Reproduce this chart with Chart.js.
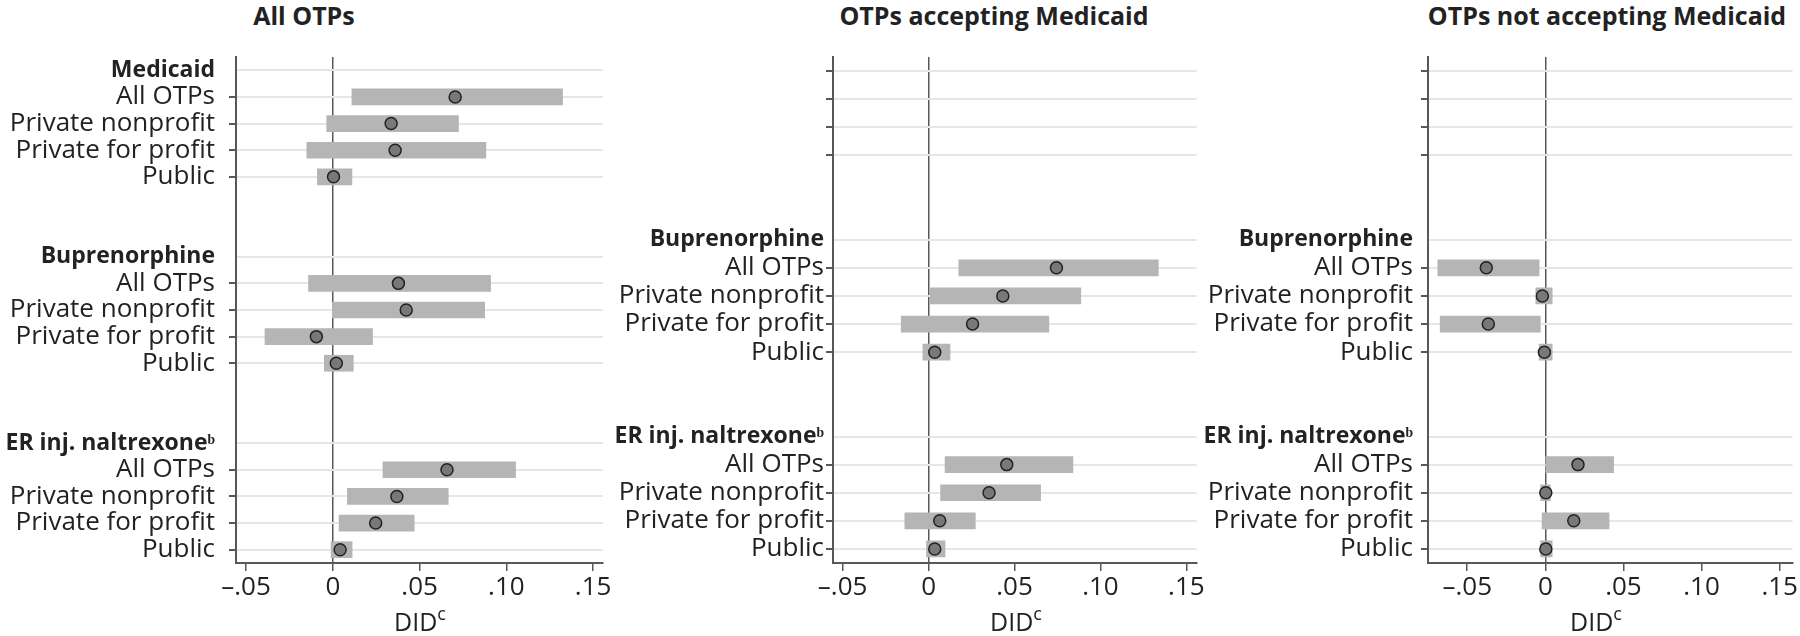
<!DOCTYPE html>
<html>
<head>
<meta charset="utf-8">
<script src="https://cdn.jsdelivr.net/npm/chart.js@4.4.1/dist/chart.umd.min.js"></script>
<style>
  body { margin: 0; background: #fff; }
  #wrap { position: relative; width: 1800px; height: 636px; overflow: hidden; }
  canvas { position: absolute; top: 0; }
  .ttl { position: absolute; top: 0px; font: bold 25px "Open Sans", sans-serif; line-height: 30px;
         color: #222; white-space: nowrap; transform: translateX(-50%); }
  .xt { position: absolute; top: 598px; font: 25px "Open Sans", sans-serif; line-height: 34px;
        color: #222; white-space: nowrap; transform: translateX(-50%); }
  .xt sup { font-size: 18px; position: relative; top: -2px; }
</style>
</head>
<body>
<div id="wrap">
  <div class="ttl" style="left:304px">All OTPs</div>
  <div class="ttl" style="left:994px">OTPs accepting Medicaid</div>
  <div class="ttl" style="left:1607px">OTPs not accepting Medicaid</div>
  <canvas id="c1" width="612" height="636" style="left:0px"></canvas>
  <canvas id="c2" width="592" height="636" style="left:612px"></canvas>
  <canvas id="c3" width="596" height="636" style="left:1204px"></canvas>
  <div class="xt" style="left:420px">DID<sup>c</sup></div>
  <div class="xt" style="left:1016px">DID<sup>c</sup></div>
  <div class="xt" style="left:1596px">DID<sup>c</sup></div>
</div>
<script>
var groupLabels = ['All OTPs', 'Private nonprofit', 'Private for profit', 'Public'];
var xTickValues = [-0.05, 0, 0.05, 0.10, 0.15];
var xTickLabels = ['\u2013.05', '0', '.05', '.10', '.15'];

// All OTPs
var allMedEst = [0.0705, 0.0336, 0.0359, 0.0004];
var allMedLo  = [0.0110, -0.0035, -0.0150, -0.0089];
var allMedHi  = [0.1324, 0.0724, 0.0882, 0.0110];
var allBupEst = [0.0378, 0.0423, -0.0095, 0.0020];
var allBupLo  = [-0.0140, -0.0003, -0.0391, -0.0049];
var allBupHi  = [0.0909, 0.0875, 0.0229, 0.0118];
var allErEst  = [0.0658, 0.0369, 0.0247, 0.0042];
var allErLo   = [0.0289, 0.0084, 0.0036, -0.0010];
var allErHi   = [0.1053, 0.0665, 0.0469, 0.0111];

// OTPs accepting Medicaid
var accBupEst = [0.0744, 0.0432, 0.0256, 0.0036];
var accBupLo  = [0.0176, 0.0009, -0.0159, -0.0033];
var accBupHi  = [0.1337, 0.0886, 0.0700, 0.0125];
var accErEst  = [0.0455, 0.0352, 0.0065, 0.0036];
var accErLo   = [0.0096, 0.0070, -0.0138, -0.0012];
var accErHi   = [0.0840, 0.0652, 0.0272, 0.0096];

// OTPs not accepting Medicaid
var notBupEst = [-0.0378, -0.0019, -0.0365, -0.0006];
var notBupLo  = [-0.0688, -0.0061, -0.0673, -0.0040];
var notBupHi  = [-0.0040, 0.0044, -0.0032, 0.0044];
var notErEst  = [0.0209, 0.0003, 0.0182, 0.0003];
var notErLo   = [0.0003, -0.0030, -0.0021, -0.0030];
var notErHi   = [0.0437, 0.0032, 0.0408, 0.0044];

// rows: header, 4 items, 2 blank rows between sections
function buildRows(secs) {
    var labels = [], kinds = [], est = [], ci = [];
    secs.forEach(function (s, k) {
        if (k > 0) {
            for (var g = 0; g < 2; g++) { labels.push(''); kinds.push('gap'); est.push(null); ci.push(null); }
        }
        if (s.name) { labels.push(s.name); kinds.push('head'); est.push(null); ci.push(null); }
        groupLabels.forEach(function (lab, i) {
            labels.push(s.est ? lab : '');
            kinds.push('item');
            est.push(s.est ? s.est[i] : null);
            ci.push(s.est ? [s.lo[i], s.hi[i]] : null);
        });
    });
    return { labels: labels, kinds: kinds, est: est, ci: ci };
}

var panels = [
    { id: 'c1', yW: 236, padR: 9, xMin: -0.0558, xMax: 0.1557, tickPad: 14,
      rows: buildRows([
          { name: 'Medicaid', est: allMedEst, lo: allMedLo, hi: allMedHi },
          { name: 'Buprenorphine', est: allBupEst, lo: allBupLo, hi: allBupHi },
          { name: 'ER inj. naltrexone\u1d47', est: allErEst, lo: allErLo, hi: allErHi }]) },
    { id: 'c2', yW: 221, padR: 6, xMin: -0.0556, xMax: 0.1559, tickPad: 2,
      rows: buildRows([
          { name: null, est: null },
          { name: 'Buprenorphine', est: accBupEst, lo: accBupLo, hi: accBupHi },
          { name: 'ER inj. naltrexone\u1d47', est: accErEst, lo: accErLo, hi: accErHi }]) },
    { id: 'c3', yW: 224, padR: 3, xMin: -0.0751, xMax: 0.1582, tickPad: 8,
      rows: buildRows([
          { name: null, est: null },
          { name: 'Buprenorphine', est: notBupEst, lo: notBupLo, hi: notBupHi },
          { name: 'ER inj. naltrexone\u1d47', est: notErEst, lo: notErLo, hi: notErHi }]) }
];

var axisColor = '#585858';

panels.forEach(function (p) {
    var rows = p.rows;
    new Chart(document.getElementById(p.id).getContext('2d'), {
        type: 'bar',
        data: {
            labels: rows.labels,
            datasets: [{
                type: 'line',
                indexAxis: 'y',
                data: rows.est,
                showLine: false,
                pointRadius: 6,
                pointBackgroundColor: '#787878',
                pointBorderColor: '#222',
                pointBorderWidth: 1.5,
                order: 0
            }, {
                indexAxis: 'y',
                data: rows.ci,
                backgroundColor: '#b5b5b5',
                borderWidth: 0,
                barThickness: 16,
                order: 1
            }]
        },
        options: {
            indexAxis: 'y',
            responsive: false,
            animation: false,
            events: [],
            layout: { padding: { top: 57, right: p.padR, bottom: 0, left: 0 } },
            plugins: { legend: { display: false }, tooltip: { enabled: false } },
            scales: {
                x: {
                    type: 'linear',
                    min: p.xMin,
                    max: p.xMax,
                    afterBuildTicks: function (s) { s.ticks = xTickValues.map(function (v) { return { value: v }; }); },
                    afterFit: function (s) { s.height = 73; s.paddingLeft = 0; s.paddingRight = 0; },
                    ticks: {
                        callback: function (v, i) { return xTickLabels[i]; },
                        font: { family: 'Open Sans', size: 26 },
                        color: '#222',
                        padding: 1,
                        maxRotation: 0
                    },
                    grid: {
                        color: function (ctx) { return ctx.tick && ctx.tick.value === 0 ? axisColor : 'rgba(0,0,0,0)'; },
                        lineWidth: 1.5,
                        tickColor: axisColor,
                        tickLength: 8
                    },
                    border: { color: axisColor, width: 2 }
                },
                y: {
                    afterFit: function (s) { s.width = p.yW; s.paddingTop = 0; s.paddingBottom = 0; },
                    ticks: {
                        autoSkip: false,
                        padding: p.tickPad,
                        color: '#222',
                        font: function (ctx) {
                            var head = rows.kinds[ctx.index] === 'head';
                            return { family: 'Open Sans', size: head ? 23 : 26, weight: head ? 'bold' : 'normal' };
                        }
                    },
                    grid: {
                        offset: false,
                        lineWidth: 2,
                        color: function (ctx) { return rows.kinds[ctx.index] === 'gap' ? 'rgba(0,0,0,0)' : '#e6e6e6'; },
                        tickColor: function (ctx) { return rows.kinds[ctx.index] === 'item' ? axisColor : 'rgba(0,0,0,0)'; },
                        tickLength: 7
                    },
                    border: { color: axisColor, width: 2 }
                }
            }
        }
    });
});
</script>
</body>
</html>
